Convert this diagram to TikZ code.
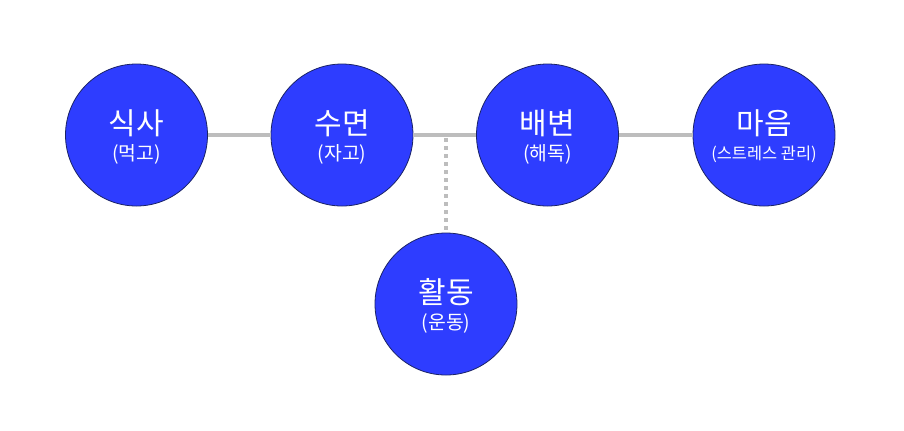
\documentclass[tikz,border=0pt]{standalone}
\usepackage{fontspec}
\setmainfont{Noto Sans CJK KR}
\begin{document}
\begin{tikzpicture}[x=0.75pt,y=-0.75pt,
  bubble/.style={circle,draw=bubbleedge,line width=0.6pt,fill=blubble,minimum size=106.5pt,inner sep=0pt},
  link/.style={draw=linkgray,line width=3pt},
  dotlink/.style={draw=linkgray,line width=3pt,dash pattern=on 3pt off 3pt},
  ttl/.style={font=\fontsize{22.5}{26}\selectfont,text=white},
  sub/.style={font=\fontsize{14.5}{17}\selectfont,text=white}]
\definecolor{blubble}{HTML}{2E3DFF}
\definecolor{bubbleedge}{HTML}{1A2366}
\definecolor{linkgray}{HTML}{BDBDBD}
\useasboundingbox (0,0) rectangle (904,430);
\fill[white] (0,0) rectangle (904,430);
\node[bubble] (a) at (136.5,135) {};
\node[bubble] (b) at (342,135) {};
\node[bubble] (c) at (547.5,135) {};
\node[bubble] (d) at (764,135) {};
\node[bubble] (e) at (446,304) {};
\coordinate (j) at (446,135.5);
\path[link] (a.east) -- (b.west);
\path[link] (b.east) -- (c.west);
\path[link] (c.east) -- (d.west);
\path[dotlink] ([yshift=-2pt]j) -- (e.north);
\node[ttl] (at) at (136.5,123) {식사};
\node[sub] (as) at (136.5,154) {(먹고)};
\node[ttl] (bt) at (342,123) {수면};
\node[sub] (bs) at (342,154) {(자고)};
\node[ttl] (ct) at (547.5,123) {배변};
\node[sub] (cs) at (547.5,154) {(해독)};
\node[ttl] (dt) at (764,123) {마음};
\node[sub,font=\fontsize{12.3}{14}\selectfont] (ds) at (764,154) {(스트레스 관리)};
\node[ttl] (et) at (446,292) {활동};
\node[sub] (es) at (446,323) {(운동)};
\end{tikzpicture}
\end{document}
